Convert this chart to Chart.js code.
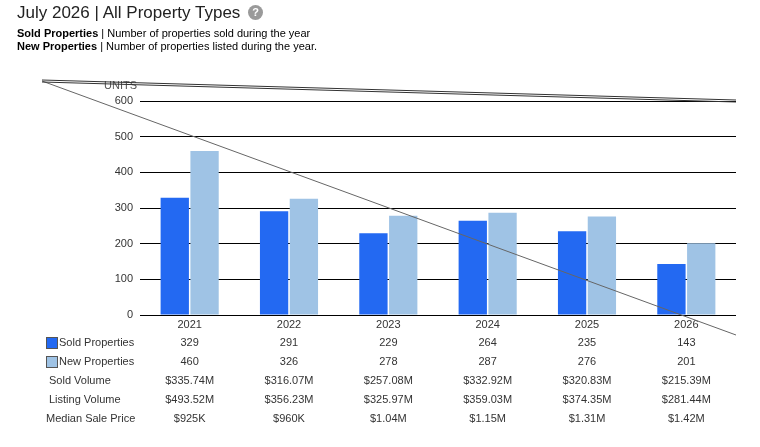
<!DOCTYPE html>
<html><head><meta charset="utf-8">
<script src="https://cdn.jsdelivr.net/npm/chart.js@4"></script>
<style>
body{margin:0;background:#fff;font-family:"Liberation Sans",Arial,sans-serif}
#wrap{position:relative;width:760px;height:447px}
canvas{position:absolute;left:0;top:0}
.t{position:absolute;left:17px;top:3px;font-size:17px;color:#222}
.q{display:inline-block;width:15px;height:15px;border-radius:50%;background:#9a9a9a;color:#fff;font-size:11px;font-weight:bold;text-align:center;line-height:15px;vertical-align:2px;margin-left:3px}
.s{position:absolute;left:17px;font-size:11px;color:#000}
</style></head><body>
<div id="wrap">
<canvas id="myChart" width="760" height="447"></canvas>
<div class="t">July 2026 | All Property Types <span class="q">?</span></div>
<div class="s" style="top:27px"><b>Sold Properties</b> | Number of properties sold during the year</div>
<div class="s" style="top:40px"><b>New Properties</b> | Number of properties listed during the year.</div>
</div>
<script>
const years = ['2021','2022','2023','2024','2025','2026'];
const soldProps = [329, 291, 229, 264, 235, 143];
const newProps = [460, 326, 278, 287, 276, 201];
const soldVolume = ['$335.74M','$316.07M','$257.08M','$332.92M','$320.83M','$215.39M'];
const listingVolume = ['$493.52M','$356.23M','$325.97M','$359.03M','$374.35M','$281.44M'];
const medianPrice = ['$925K','$960K','$1.04M','$1.15M','$1.31M','$1.42M'];
const soldColor = '#2369f2', newColor = '#9fc3e5';

const tablePlugin = {
  id: 'table',
  afterDraw(chart) {
    const c = chart.ctx, xs = chart.scales.x, a = chart.chartArea;
    c.save();
    c.font = '11px "Liberation Sans", Arial';
    c.fillStyle = '#333';
    c.textBaseline = 'middle';
    const rows = [
      ['Sold Properties', soldProps, soldColor],
      ['New Properties', newProps, newColor],
      ['Sold Volume', soldVolume],
      ['Listing Volume', listingVolume],
      ['Median Sale Price', medianPrice]
    ];
    rows.forEach((r, i) => {
      const y = 343 + i * 19;
      c.textAlign = 'left';
      if (r[2]) {
        c.fillStyle = r[2]; c.fillRect(47, y - 5, 10, 10);
        c.strokeStyle = '#555'; c.lineWidth = 1; c.strokeRect(46.5, y - 5.5, 11, 11);
        c.fillStyle = '#333'; c.fillText(r[0], 59, y);
      } else {
        c.fillText(r[0], i === 4 ? 46 : 49, y);
      }
      c.textAlign = 'center';
      r[1].forEach((v, j) => c.fillText(String(v), xs.getPixelForValue(j), y));
    });
    c.textAlign = 'left';
    c.fillStyle = '#555';
    c.fillText('UNITS', 104, a.top - 15);
    // stray diagonal lines seen in the reference
    c.strokeStyle = '#666'; c.lineWidth = 1;
    c.beginPath(); c.moveTo(42, 81); c.lineTo(736, 335); c.stroke();
    c.strokeStyle = '#333';
    c.beginPath(); c.moveTo(42, 80); c.lineTo(736, 100); c.stroke();
    c.beginPath(); c.moveTo(42, 82); c.lineTo(736, 102); c.stroke();
    c.restore();
  }
};

new Chart(document.getElementById('myChart').getContext('2d'), {
  type: 'bar',
  data: {
    labels: years,
    datasets: [
      { label: 'Sold Properties', data: soldProps, backgroundColor: soldColor },
      { label: 'New Properties', data: newProps, backgroundColor: newColor }
    ]
  },
  options: {
    responsive: false, animation: false,
    layout: { padding: { top: 101, right: 24, bottom: 112, left: 0 } },
    plugins: { legend: { display: false }, tooltip: { enabled: false } },
    datasets: { bar: { categoryPercentage: 0.6, barPercentage: 0.95 } },
    scales: {
      x: {
        grid: { display: false, drawTicks: false }, border: { display: false },
        ticks: { color: '#333', font: { size: 11, family: '"Liberation Sans", Arial' }, padding: 3 },
        afterFit(s) { s.height = 20; }
      },
      y: {
        min: 0, max: 600,
        grid: { color: '#000', drawTicks: false }, border: { display: false },
        ticks: { stepSize: 100, color: '#333', padding: 7, font: { size: 11, family: '"Liberation Sans", Arial' } },
        afterFit(s) { s.width = 140; }
      }
    }
  },
  plugins: [tablePlugin]
});
</script>
</body></html>
